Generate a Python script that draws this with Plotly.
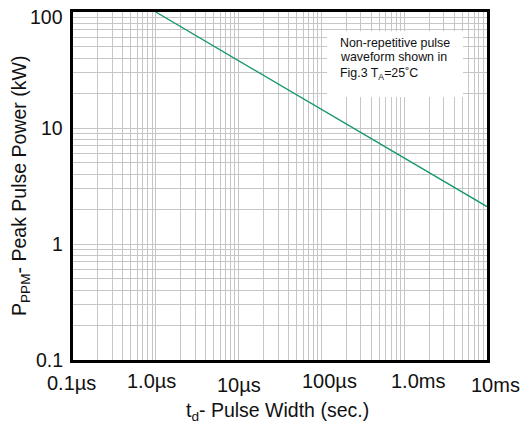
import math
import plotly.graph_objects as go

# Data (pulse width in seconds, peak pulse power in kW)
pulse_width_s = [1e-6, 1e-2]
peak_power_kw = [100, 2.1]

x_tick_vals = [1e-7, 1e-6, 1e-5, 1e-4, 1e-3, 1e-2]
x_tick_text = ["0.1µs", "1.0µs", "10µs", "100µs", "1.0ms", "10ms"]
y_tick_vals = [0.1, 1, 10, 100]
y_tick_text = ["0.1", "1", "10", "100"]

note_lines = ["Non-repetitive pulse", "waveform shown in", "Fig.3 T<sub>A</sub>=25˚C"]

FONT = "Arial, Liberation Sans, sans-serif"
TXT = "#111111"

# label nudges (pixels) to mimic the staggered labels of the original
x_label_dx = [-2, -4, 0, 8, 14, 8]
x_label_dy = [-23, -21, -25, -21, -21, -24.5]
y_label_dy = [0, 0, 0, -5]

fig = go.Figure()
fig.add_trace(go.Scatter(
    x=pulse_width_s, y=peak_power_kw, mode="lines",
    line=dict(color="#13966c", width=1.3), showlegend=False, hoverinfo="skip"))

grid_col = "#c6c6c6"
common = dict(
    showticklabels=False, ticks="", showgrid=True, gridcolor=grid_col, gridwidth=1.2,
    minor=dict(showgrid=True, gridcolor=grid_col, gridwidth=1.2, dtick="D1"),
    showline=True, linecolor="black", linewidth=2.5, mirror=True, zeroline=False,
    automargin=False)
fig.update_xaxes(type="log", range=[-7, -2], tickvals=x_tick_vals, **common)
fig.update_yaxes(type="log", range=[-1, 2], tickvals=y_tick_vals, **common)

# x tick labels
for v, t, dx, dy in zip(x_tick_vals, x_tick_text, x_label_dx, x_label_dy):
    fig.add_annotation(xref="x", yref="paper", x=math.log10(v), y=0, xanchor="center",
                       yanchor="middle", xshift=dx, yshift=dy, text=t, showarrow=False,
                       font=dict(family=FONT, size=20, color=TXT))
# y tick labels
for v, t, dy in zip(y_tick_vals, y_tick_text, y_label_dy):
    fig.add_annotation(xref="paper", yref="y", x=0, y=math.log10(v), xanchor="right",
                       yanchor="middle", xshift=-8, yshift=dy, text=t, showarrow=False,
                       font=dict(family=FONT, size=19.5, color=TXT))

# axis titles
fig.add_annotation(xref="paper", yref="paper", x=0.495, y=0, xanchor="center", yanchor="middle",
                   yshift=-51, text="t<sub>d</sub>- Pulse Width (sec.)", showarrow=False,
                   font=dict(family=FONT, size=19.5, color=TXT))
fig.add_annotation(xref="paper", yref="paper", x=0, y=0.5, xanchor="center", yanchor="middle",
                   xshift=-53, text="P<sub>PPM</sub>- Peak Pulse Power (kW)", textangle=-90,
                   showarrow=False, font=dict(family=FONT, size=19.5, color=TXT))

# note box
fig.add_shape(type="rect", xref="paper", yref="paper", x0=0.6135, x1=0.942, y0=0.756, y1=0.945,
              fillcolor="white", line=dict(width=0), layer="above")
for line, yy in zip(note_lines, [0.9098, 0.8695, 0.8230]):
    fig.add_annotation(xref="paper", yref="paper", x=0.641, y=yy, xanchor="left", yanchor="middle",
                       text=line, showarrow=False, align="left",
                       font=dict(family=FONT, size=12.4, color=TXT))

fig.update_layout(
    width=513, height=415, margin=dict(l=65, r=34, t=4, b=63, autoexpand=False),
    paper_bgcolor="white", plot_bgcolor="white", font=dict(family=FONT))

fig.write_html("out.html")
